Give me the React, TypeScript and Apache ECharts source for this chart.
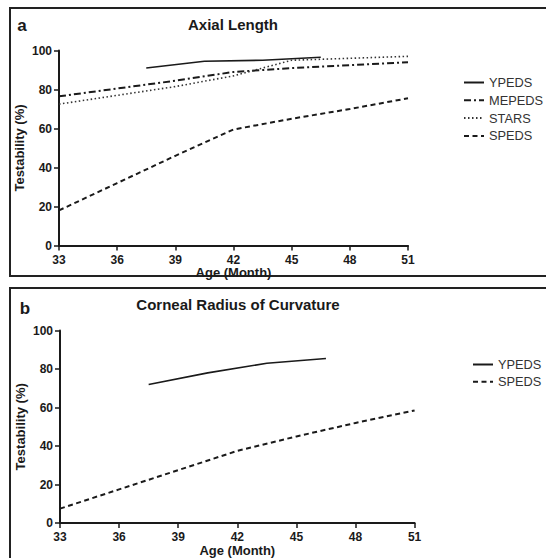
import React, { useEffect, useRef } from "react";
import * as echarts from "echarts";

// Panel a: Axial Length
const ypedsAgesA = [37.5, 40.5, 43.5, 46.5];
const ypedsValuesA = [91, 94.5, 95, 96.5];
const mepedsAgesA = [33, 36, 39, 42, 45, 48, 51];
const mepedsValuesA = [76.5, 80.5, 84.5, 89, 91, 92.5, 94];
const starsAgesA = [33, 36, 39, 42, 45, 48, 51];
const starsValuesA = [72.5, 77, 81.5, 87, 95, 96, 97];
const spedsAgesA = [33, 36, 39, 42, 45, 48, 51];
const spedsValuesA = [18, 32, 46, 59.5, 65, 70, 75.5];

// Panel b: Corneal Radius of Curvature
const ypedsAgesB = [37.5, 40.5, 43.5, 46.5];
const ypedsValuesB = [72, 78, 83, 85.5];
const spedsAgesB = [33, 36, 39, 42, 45, 48, 51];
const spedsValuesB = [7.5, 17.5, 27.5, 37.5, 45, 52, 58.5];

const xTicks = { min: 33, max: 51, interval: 3 };
const yTicks = { min: 0, max: 100, interval: 20 };
const legendA = ["YPEDS", "MEPEDS", "STARS", "SPEDS"];
const legendB = ["YPEDS", "SPEDS"];

const FONT = "'Liberation Sans', Arial, Helvetica, sans-serif";
const INK = "#1a1a1a";

const pairs = (xs: number[], ys: number[]) => xs.map((x, i) => [x, ys[i]]);

const styles: Record<string, any> = {
  YPEDS: { type: "solid", width: 1.6, color: "#1a1a1a" },
  MEPEDS: { type: [7, 3, 2, 3], width: 2, color: "#1a1a1a" },
  STARS: { type: [1.5, 2.5], width: 1.6, color: "#333333" },
  SPEDS: { type: [5, 3.5], width: 2, color: "#1a1a1a" },
};

function axisPair(gridIndex: number, xGap: number) {
  const common = {
    gridIndex,
    axisLine: { show: true, lineStyle: { color: INK, width: 2 } },
    axisTick: { show: true, inside: false, length: 5, lineStyle: { color: INK, width: 1.5 } },
    splitLine: { show: false },
    nameTextStyle: { fontFamily: FONT, fontWeight: "bold", fontSize: 13, color: INK },
    axisLabel: { fontFamily: FONT, fontWeight: "bold", fontSize: 12, color: INK },
  };
  return {
    x: {
      ...common,
      type: "value",
      min: xTicks.min,
      max: xTicks.max,
      interval: xTicks.interval,
      name: "Age (Month)",
      nameLocation: "middle",
      nameGap: xGap,
      axisLabel: { ...common.axisLabel, margin: 8 },
    },
    y: {
      ...common,
      type: "value",
      min: yTicks.min,
      max: yTicks.max,
      interval: yTicks.interval,
      name: "Testability (%)",
      nameLocation: "middle",
      nameGap: 33,
      nameMoveOverlap: false,
      axisLabel: { ...common.axisLabel, margin: 7 },
    },
  };
}

function lineSeries(name: string, xs: number[], ys: number[], idx: number) {
  return {
    type: "line",
    name,
    xAxisIndex: idx,
    yAxisIndex: idx,
    data: pairs(xs, ys),
    symbol: "none",
    lineStyle: { ...styles[name] },
    itemStyle: { color: styles[name].color },
  };
}

export default function App() {
  const ref = useRef<HTMLDivElement>(null);
  useEffect(() => {
    if (!ref.current) return;
    const chart = echarts.init(ref.current, undefined, { renderer: "svg" });
    const a = axisPair(0, 18);
    const b = axisPair(1, 16);
    const legendCommon = {
      orient: "vertical",
      padding: 0,
      itemWidth: 20,
      itemHeight: 14,
      itemGap: 4.3,
      itemStyle: { opacity: 0 },
      textStyle: { fontFamily: FONT, fontSize: 12.8, color: "#333" },
      selectedMode: false,
    };
    chart.setOption({
      animation: false,
      backgroundColor: "#ffffff",
      grid: [
        { left: 59, top: 50.5, width: 349, height: 195 },
        { left: 60, top: 330.5, width: 354.6, height: 197.5 },
      ],
      xAxis: [a.x, b.x],
      yAxis: [a.y, b.y],
      legend: [
        { ...legendCommon, data: legendA, left: 463, top: 76, itemGap: 4.8 },
        { ...legendCommon, data: legendB, left: 472, top: 358 },
      ],
      series: [
        lineSeries("YPEDS", ypedsAgesA, ypedsValuesA, 0),
        lineSeries("MEPEDS", mepedsAgesA, mepedsValuesA, 0),
        lineSeries("STARS", starsAgesA, starsValuesA, 0),
        lineSeries("SPEDS", spedsAgesA, spedsValuesA, 0),
        lineSeries("YPEDS", ypedsAgesB, ypedsValuesB, 1),
        lineSeries("SPEDS", spedsAgesB, spedsValuesB, 1),
      ],
      graphic: [
        { type: "rect", shape: { x: 10, y: 8, width: 545, height: 268 }, style: { fill: "none", stroke: "#222", lineWidth: 2 } },
        { type: "rect", shape: { x: 10, y: 288, width: 545, height: 300 }, style: { fill: "none", stroke: "#222", lineWidth: 2 } },
        { type: "text", x: 22, y: 25, style: { text: "a", font: `bold 17px ${FONT}`, fill: INK, textAlign: "center", textVerticalAlign: "middle" } },
        { type: "text", x: 25, y: 308, style: { text: "b", font: `bold 17px ${FONT}`, fill: INK, textAlign: "center", textVerticalAlign: "middle" } },
        { type: "text", x: 233, y: 24, style: { text: "Axial Length", font: `bold 15px ${FONT}`, fill: INK, textAlign: "center", textVerticalAlign: "middle" } },
        { type: "text", x: 238, y: 304, style: { text: "Corneal Radius of Curvature", font: `bold 15px ${FONT}`, fill: INK, textAlign: "center", textVerticalAlign: "middle" } },
      ],
    });
    return () => chart.dispose();
  }, []);
  return (
    <div
      ref={ref}
      style={{ position: "fixed", left: 0, top: 0, width: 546, height: 558 }}
    />
  );
}
